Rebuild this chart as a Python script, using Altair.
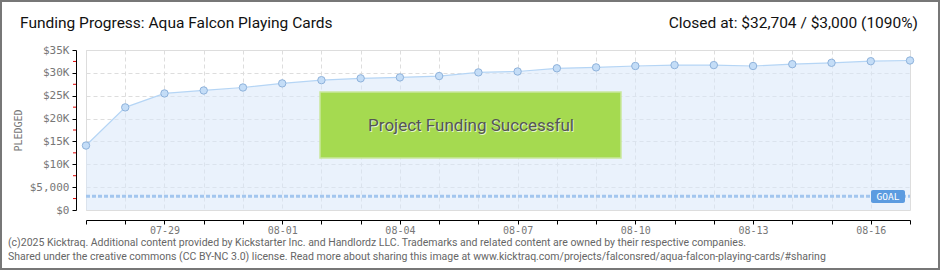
import altair as alt
import pandas as pd

# ---- data ----
dates = ["2025-07-27", "2025-07-28", "2025-07-29", "2025-07-30", "2025-07-31",
         "2025-08-01", "2025-08-02", "2025-08-03", "2025-08-04", "2025-08-05",
         "2025-08-06", "2025-08-07", "2025-08-08", "2025-08-09", "2025-08-10",
         "2025-08-11", "2025-08-12", "2025-08-13", "2025-08-14", "2025-08-15",
         "2025-08-16", "2025-08-17"]
pledged = [14100, 22450, 25500, 26150, 26800, 27700, 28400, 28800, 29000, 29300,
           30100, 30300, 31000, 31200, 31500, 31700, 31700, 31500, 31900, 32200,
           32550, 32704]
goal = 3000
y_ticks = [0, 5000, 10000, 15000, 20000, 25000, 30000, 35000]
minor_ticks = [2500, 7500, 12500, 17500, 22500, 27500, 32500]
shown_labels = ["07-29", "08-01", "08-04", "08-07", "08-10", "08-13", "08-16"]

title_text = "Funding Progress: Aqua Falcon Playing Cards"
closed_text = "Closed at:  $32,704 /  $3,000 (1090%)"
banner_text = "Project Funding Successful"
footer1 = ("(c)2025 Kicktraq. Additional content provided by Kickstarter Inc. and Handlordz LLC. "
           "Trademarks and related content are owned by their respective companies.")
footer2 = ("Shared under the creative commons (CC BY-NC 3.0) license. Read more about sharing this image at "
           "www.kicktraq.com/projects/falconsred/aqua-falcon-playing-cards/#sharing")

FONT = "Roboto"
AXFONT = "DejaVu Sans Mono"

df = pd.DataFrame({"date": [d + "T00:00:00" for d in dates], "pledged": pledged})
one = pd.DataFrame({"k": [0]})
goal_df = pd.DataFrame({"date": [dates[0] + "T00:00:00", dates[-1] + "T00:00:00"], "pledged": [goal, goal]})
minor_df = pd.DataFrame({"pledged": minor_ticks})

x_vals = [alt.DateTime(year=int(d[:4]), month=int(d[5:7]), date=int(d[8:])) for d in dates]
label_list = "[" + ",".join("'" + s + "'" for s in shown_labels) + "]"

x_scale = alt.Scale(domain=[alt.DateTime(year=2025, month=7, date=27),
                            alt.DateTime(year=2025, month=8, date=17)], nice=False)
x_axis = alt.Axis(
    values=x_vals,
    labelExpr=f"indexof({label_list}, timeFormat(datum.value, '%m-%d')) >= 0 ? timeFormat(datum.value, '%m-%d') : ''",
    title=None, offset=10, domainColor="#000", tickColor="#000", tickSize=4,
    labelColor="#777", labelFontSize=10, labelFont=AXFONT, labelPadding=1,
    labelOverlap=False, labelBound=False, labelFlush=False,
    grid=True, gridColor="#dddddd", gridDash=[4, 3],
)
y_scale = alt.Scale(domain=[0, 35000], nice=False)
y_axis = alt.Axis(
    values=y_ticks,
    labelExpr="datum.value == 0 ? '$0' : datum.value == 5000 ? '$5,000' : '$' + (datum.value/1000) + 'K'",
    title="PLEDGED", titleFontSize=10, titleColor="#777", titleFont=AXFONT,
    titleFontWeight="normal", titlePadding=6,
    offset=10, domainColor="#000", tickColor="#000", tickSize=4,
    labelColor="#777", labelFontSize=11, labelFont=AXFONT, labelPadding=3,
    labelOverlap=False, labelBound=False, labelFlush=False,
    grid=True, gridColor="#dddddd", gridDash=[4, 3],
)
X = alt.X("date:T", scale=x_scale, axis=x_axis)
Y = alt.Y("pledged:Q", scale=y_scale, axis=y_axis)

base = alt.Chart(df)
area = base.mark_area(color="#d8e8fa", opacity=0.55).encode(x=X, y=Y)
line = base.mark_line(color="#b5d5f5", strokeWidth=1.2).encode(x=X, y=Y)
pts = base.mark_point(filled=True, size=55, fill="#c4ddf7", stroke="#8eb2db",
                      strokeWidth=1, opacity=1).encode(x=X, y=Y)

goal_line = alt.Chart(goal_df).mark_line(color="#a3c6ee", strokeWidth=3, strokeDash=[4, 2]).encode(
    x=X, y=Y)

minor = alt.Chart(minor_df).mark_rule(color="#e00000", strokeWidth=1).encode(
    y=Y, x=alt.value(-13), x2=alt.value(-10))

banner = alt.Chart(one).mark_rect(fill="#a5da50", stroke="#c9e89c", strokeWidth=1.5).encode(
    x=alt.value(234), x2=alt.value(535), y=alt.value(42), y2=alt.value(108))
banner_shadow = alt.Chart(one).mark_text(text=banner_text, font=FONT, fontSize=17, color="#ffffff",
                                         opacity=0.7, align="center", baseline="middle").encode(
    x=alt.value(386), y=alt.value(77))
banner_txt = alt.Chart(one).mark_text(text=banner_text, font=FONT, fontSize=17, color="#555555",
                                      align="center", baseline="middle").encode(
    x=alt.value(385), y=alt.value(76))

goal_box = alt.Chart(one).mark_rect(fill="#5b9be0", cornerRadius=2).encode(
    x=alt.value(785), x2=alt.value(819), y=alt.value(140), y2=alt.value(153))
goal_txt = alt.Chart(one).mark_text(text="GOAL", font=AXFONT, fontSize=9.5, color="#ffffff",
                                    align="center", baseline="middle").encode(
    x=alt.value(802), y=alt.value(146.5))

title_m = alt.Chart(one).mark_text(text=title_text, font=FONT, fontSize=15.5, color="#111",
                                   align="left", baseline="middle").encode(
    x=alt.value(-66), y=alt.value(-27))
closed_m = alt.Chart(one).mark_text(text=closed_text, font=FONT, fontSize=15.5, color="#111",
                                    align="right", baseline="middle").encode(
    x=alt.value(832), y=alt.value(-27))
foot1 = alt.Chart(one).mark_text(text=footer1, font=FONT, fontSize=10.5, color="#666",
                                 align="left", baseline="middle").encode(
    x=alt.value(-78), y=alt.value(193))
foot2 = alt.Chart(one).mark_text(text=footer2, font=FONT, fontSize=10.5, color="#666",
                                 align="left", baseline="middle").encode(
    x=alt.value(-78), y=alt.value(207))
border = alt.Chart(one).mark_rect(fill=None, stroke="#777777", strokeWidth=2).encode(
    x=alt.value(-85), x2=alt.value(853), y=alt.value(-49), y2=alt.value(219))

chart = alt.layer(
    area, goal_line, line, pts, minor, banner, banner_shadow, banner_txt,
    goal_box, goal_txt, title_m, closed_m, foot1, foot2, border
).properties(
    width=824, height=160,
    autosize=alt.AutoSizeParams(type="none"),
    padding={"left": 86, "top": 50, "right": 30, "bottom": 60},
).configure_view(stroke=None).configure_axis(
    labelOverlap=False, labelBound=False
).configure(background="#ffffff")

chart.save("out.html", embed_options={"renderer": "svg", "actions": False})
